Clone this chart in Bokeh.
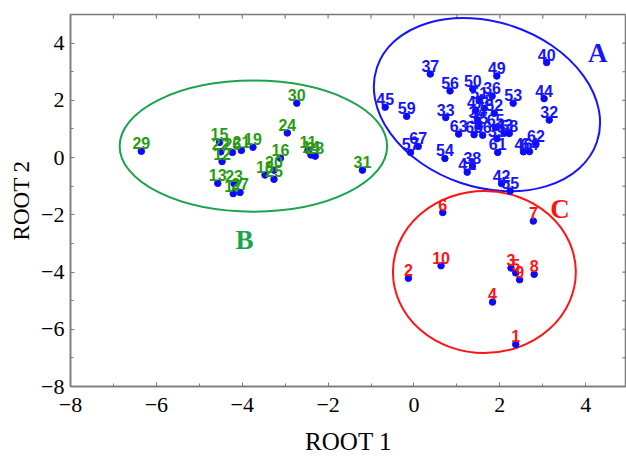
from bokeh.plotting import figure
from bokeh.models import Range1d, LinearAxis, FixedTicker, ColumnDataSource
from bokeh.core.properties import value
from bokeh.embed import file_html
from bokeh.resources import INLINE

# ---------------- data ----------------
# Group A (cases 32-67)
a_ids = ["32", "33", "34", "35", "36", "37", "38", "39", "40", "41", "42", "43",
         "44", "45", "46", "47", "48", "49", "50", "51", "52", "53", "54", "55",
         "56", "57", "58", "59", "60", "61", "62", "63", "64", "65", "66", "67"]
a_x = [3.15, 0.74, 1.48, 1.52, 1.82, 0.38, 1.36, 1.93, 3.09, 1.24, 2.04, 2.10,
       3.03, -0.67, 2.55, 1.44, 1.64, 1.93, 1.37, 1.52, 1.87, 2.31, 0.72, 2.24,
       0.84, -0.08, 2.22, -0.17, 1.40, 1.95, 2.84, 1.04, 2.69, 1.90, 1.60, 0.10]
a_y = [1.31, 1.40, 1.32, 1.09, 2.15, 2.92, -0.30, 0.66, 3.32, -0.51, -0.91, 0.85,
       2.06, 1.76, 0.20, 1.66, 1.72, 2.85, 2.40, 1.99, 1.55, 1.90, -0.03, -1.17,
       2.33, 0.18, 0.84, 1.44, 0.80, 0.18, 0.47, 0.82, 0.21, 1.05, 0.78, 0.39]

# Group B (cases 11-31)
b_ids = ["11", "12", "13", "14", "15", "16", "17", "18", "19", "20", "21",
         "22", "23", "24", "25", "26", "27", "28", "29", "30", "31"]
b_x = [-2.47, -4.47, -4.57, -2.40, -4.53, -3.11, -4.21, -3.47, -3.75, -3.26, -4.02,
       -4.50, -4.19, -2.95, -3.26, -4.23, -4.05, -2.30, -6.35, -2.73, -1.20]
b_y = [0.25, -0.14, -0.90, 0.09, 0.53, -0.02, -1.26, -0.61, 0.36, -0.44, 0.25,
       0.20, -0.91, 0.86, -0.76, 0.18, -1.22, 0.05, 0.22, 1.90, -0.44]

# Group C (cases 1-10)
c_ids = ["1", "2", "3", "4", "5", "6", "7", "8", "9", "10"]
c_x = [2.37, -0.13, 2.26, 1.83, 2.37, 0.67, 2.78, 2.80, 2.46, 0.63]
c_y = [-6.53, -4.22, -3.86, -5.05, -4.03, -1.92, -2.22, -4.08, -4.27, -3.78]

# Group ellipses: centre, full width (ROOT 1 units), full height (ROOT 2 units), angle (rad)
groups = ["A", "B", "C"]
ell_x = [1.70, -3.74, 1.64]
ell_y = [1.85, 0.40, -4.00]
ell_w = [5.41, 6.23, 4.26]
ell_h = [5.77, 4.58, 5.66]
ell_angle = [-0.328, 0.0, 0.0]

# Group letters
letter_x = [4.28, -3.95, 3.40]
letter_y = [3.64, -2.88, -1.80]

x_ticks = [-8, -6, -4, -2, 0, 2, 4]
x_minor = [-7, -5, -3, -1, 1, 3]
y_ticks = [-8, -6, -4, -2, 0, 2, 4]
y_minor = [-7, -5, -3, -1, 1, 3]
top_ticks = [-7, -6, -5, -4, -3, -2, -1, 0, 1, 2, 3, 4]

X0, X1, Y0, Y1 = -8, 4.95, -8, 5

# ---------------- styles ----------------
DOT = "#0a0aff"
A_COL = "#1414ff"
B_COL = "#2a9a12"
B_ELL = "#19a44c"
C_COL = "#ff1414"
FRAME = "#7a7a7a"
SERIF = "Liberation Serif"
SANS = "Liberation Sans"

W, H = 626, 457
BL, BT, BR, BB = 70, 14, 0, 68

p = figure(width=W, height=H, output_backend="svg", toolbar_location=None,
           x_range=Range1d(X0, X1), y_range=Range1d(Y0, Y1),
           min_border_left=BL, min_border_right=BR, min_border_top=BT,
           min_border_bottom=BB, x_axis_location=None, y_axis_location=None)
p.outline_line_color = FRAME
p.outline_line_width = 1.5
p.xgrid.visible = False
p.ygrid.visible = False
p.background_fill_color = "white"
p.border_fill_color = "white"


def style_axis(ax, label_size):
    ax.axis_line_color = FRAME
    ax.axis_line_width = 1.5
    ax.major_tick_line_color = FRAME
    ax.minor_tick_line_color = FRAME
    ax.major_tick_in = 4
    ax.major_tick_out = 0
    ax.minor_tick_in = 3
    ax.minor_tick_out = 0
    ax.major_label_text_font = SERIF
    ax.major_label_text_font_size = "22px"
    ax.major_label_text_color = "black"
    ax.axis_label_text_font = SERIF
    ax.axis_label_text_font_size = label_size
    ax.axis_label_text_font_style = "normal"
    ax.axis_label_text_color = "black"


xb = LinearAxis(axis_label="ROOT 1", ticker=FixedTicker(ticks=x_ticks, minor_ticks=x_minor))
style_axis(xb, "25px")
xb.major_label_standoff = 11
xb.axis_label_standoff = 13
p.add_layout(xb, "below")

yl = LinearAxis(axis_label="ROOT 2", ticker=FixedTicker(ticks=y_ticks, minor_ticks=y_minor))
style_axis(yl, "23px")
yl.major_label_standoff = 6
yl.axis_label_standoff = 4
p.add_layout(yl, "left")

# inward tick marks on the top and right edges of the frame
tick_len_y = 4 * (Y1 - Y0) / (H - BT - BB)
tick_len_x = 4 * (X1 - X0) / (W - BL - BR)
p.segment(x0=top_ticks, y0=[Y1] * len(top_ticks), x1=top_ticks,
          y1=[Y1 - tick_len_y] * len(top_ticks), line_color=FRAME, line_width=1.2)
right_ticks = y_ticks + y_minor
p.segment(x0=[X1] * len(right_ticks), y0=right_ticks,
          x1=[X1 - tick_len_x] * len(right_ticks), y1=right_ticks,
          line_color=FRAME, line_width=1.2)

# ellipses
ell_src = ColumnDataSource(dict(x=ell_x, y=ell_y, w=ell_w, h=ell_h, a=ell_angle,
                                c=[A_COL, B_ELL, C_COL]))
p.ellipse(x="x", y="y", width="w", height="h", angle="a", source=ell_src,
          fill_color=None, line_color="c", line_width=2)

# points
for xs, ys in ((a_x, a_y), (b_x, b_y), (c_x, c_y)):
    p.scatter(xs, ys, size=6.5, fill_color=DOT, line_color=DOT)

# point labels (centred just above each point)
for ids, xs, ys, col in ((a_ids, a_x, a_y, A_COL), (b_ids, b_x, b_y, B_COL),
                         (c_ids, c_x, c_y, C_COL)):
    p.text(xs, ys, text=ids, text_align="center", text_baseline="bottom",
           y_offset=-2, text_font=value(SANS), text_font_style="bold",
           text_font_size="16px", text_color=col)

# group letters
p.text(letter_x, letter_y, text=groups, text_align="center", text_baseline="middle",
       text_font=value(SERIF), text_font_style="bold", text_font_size="27px",
       text_color=[A_COL, B_ELL, C_COL])

open("out.html", "w").write(file_html(p, INLINE))
